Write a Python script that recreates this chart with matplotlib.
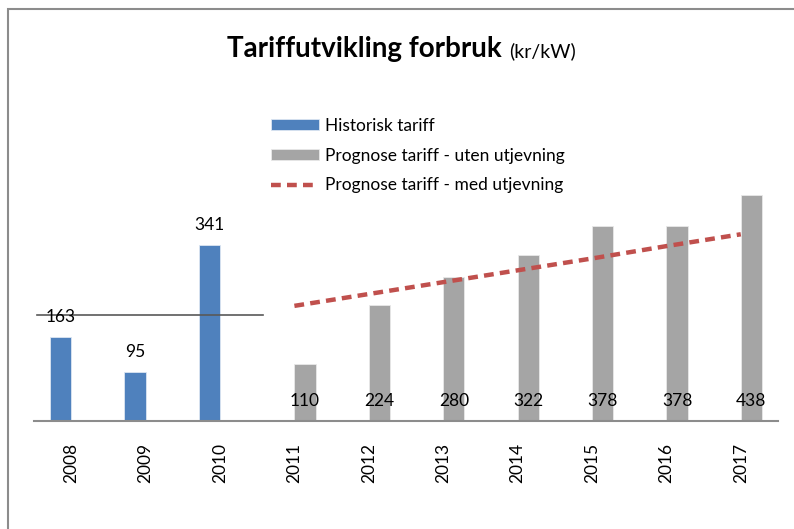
import matplotlib
matplotlib.use("Agg")
import matplotlib.pyplot as plt
from matplotlib.patches import Rectangle

# data
years = ["2008", "2009", "2010", "2011", "2012", "2013", "2014", "2015", "2016", "2017"]
historisk = [163, 95, 341]
prognose_uten = [110, 224, 280, 322, 378, 378, 438]
prognose_med = [223, 246, 269, 292, 315, 339, 362]
snitt_historisk = 205

blue = "#4F81BD"
grey = "#A5A5A5"
red = "#C0504D"

plt.rcParams["font.family"] = ["Lato", "DejaVu Sans"]

fig = plt.figure(figsize=(7.94, 5.29), dpi=100)
ax = fig.add_axes([34 / 794, (529 - 420.7) / 529, 744 / 794, 309 / 529])

x_hist = list(range(len(historisk)))
x_prog = list(range(len(historisk), len(years)))
w = 0.285
# clustered bars: blue series sits left of the category, grey series right
xb = [x - w / 2 for x in x_hist]
xg = [x + w / 2 for x in x_prog]

b1 = ax.bar(xb, historisk, width=w, color=blue, edgecolor="#dce6f2", linewidth=0.6, zorder=2)
b2 = ax.bar(xg, prognose_uten, width=w, color=grey, edgecolor="#e8e8e8", linewidth=0.6, zorder=2)
l1, = ax.plot(x_prog, prognose_med, color=red, lw=3.2, ls=(0, (2.2, 1.4)), zorder=3)

# horizontal line over the historical years
ax.plot([-0.46, 2.58], [snitt_historisk, snitt_historisk], color="#595959", lw=1.2, zorder=4)

for xi, v in zip(xb, historisk):
    ax.annotate(str(v), (xi, v), xytext=(0, 20), textcoords="offset pixels",
                ha="center", va="center", fontsize=12.5, zorder=5)
for xi, v in zip(xg, prognose_uten):
    ax.annotate(str(v), (xi, 0), xytext=(0, 20), textcoords="offset pixels",
                ha="center", va="center", fontsize=12.5, zorder=5)

ax.set_xlim(-0.5, len(years) - 0.5)
ax.set_ylim(0, 600)
ax.set_xticks(range(len(years)))
ax.set_xticklabels(years, rotation=90, fontsize=12.5)
ax.tick_params(axis="x", length=0, pad=16)
ax.set_yticks([])
for s in ["top", "right", "left"]:
    ax.spines[s].set_visible(False)
ax.spines["bottom"].set_color("#8c8c8c")
ax.spines["bottom"].set_linewidth(1.5)

leg = ax.legend([b1, b2, l1],
                ["Historisk tariff", "Prognose tariff - uten utjevning",
                 "Prognose tariff - med utjevning"],
                loc="upper left", bbox_to_anchor=(262 / 794, (529 - 109) / 529),
                bbox_transform=fig.transFigure, frameon=False, fontsize=12.5,
                handlelength=2.8, handleheight=0.6, handletextpad=0.35,
                labelspacing=0.8, borderpad=0)

# title in two sizes
t1 = fig.text(227 / 794, (529 - 57) / 529, "Tariffutvikling forbruk", fontsize=20,
              fontweight="bold", va="baseline", ha="left")
fig.canvas.draw()
bb = t1.get_window_extent()
fig.text((bb.x1 + 7) / 794, (529 - 57) / 529, "(kr/kW)", fontsize=14,
         va="baseline", ha="left")

# outer frame
fig.patches.append(Rectangle((8 / 794, -0.05), 1.2, (529 - 9) / 529 + 0.05,
                             transform=fig.transFigure, fill=False,
                             edgecolor="#8c8c8c", lw=1.5, zorder=0))

fig.savefig("out.png", dpi=100)
